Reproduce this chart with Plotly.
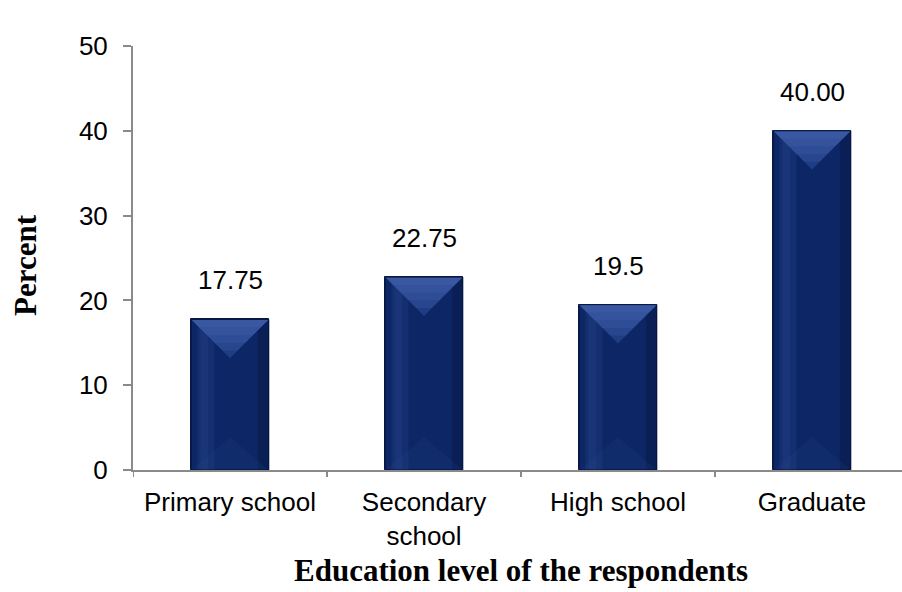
import plotly.graph_objects as go

categories = ["Primary school", "Secondary<br>school", "High school", "Graduate"]
values = [17.75, 22.75, 19.5, 40.0]
value_labels = ["17.75", "22.75", "19.5", "40.00"]
y_ticks = [0, 10, 20, 30, 40, 50]

W, H = 902, 592
ML, MR, MT, MB = 133, 0, 46, 122
px_per_cat = 194.0
bar_w = 0.40
y_max = 50
x_end = -0.5 + (W - ML - MR) / px_per_cat
pw, ph = W - ML - MR, H - MT - MB
px_per_y = ph / y_max

sans = "Liberation Sans, Arial, sans-serif"
serif = "Liberation Serif, Times New Roman, serif"
axis_grey = "#8a8a8a"

fig = go.Figure()
fig.add_trace(go.Bar(
    x=list(range(len(categories))), y=values, width=bar_w,
    marker=dict(color="#0d2665", line=dict(color="#08194a", width=1)),
    hoverinfo="skip",
))

# bevel shading derived from bar geometry (45-degree facets)
depth = (bar_w / 2 * px_per_cat) / px_per_y
shapes = []
for i, v in enumerate(values):
    x0, x1 = i - bar_w / 2, i + bar_w / 2
    d = min(depth, v / 2)
    # soft left highlight
    shapes.append(dict(type="rect", xref="x", yref="y",
                       x0=x0 + bar_w * 0.08, x1=x0 + bar_w * 0.30, y0=0, y1=v,
                       fillcolor="rgba(45,80,155,0.22)", line_width=0, layer="above"))
    shapes.append(dict(type="rect", xref="x", yref="y",
                       x0=x0 + bar_w * 0.12, x1=x0 + bar_w * 0.22, y0=0, y1=v,
                       fillcolor="rgba(45,80,155,0.20)", line_width=0, layer="above"))
    # darker right side
    shapes.append(dict(type="rect", xref="x", yref="y",
                       x0=x1 - bar_w * 0.14, x1=x1, y0=0, y1=v,
                       fillcolor="rgba(0,10,40,0.25)", line_width=0, layer="above"))
    # bottom facet (subtle)
    shapes.append(dict(type="path", xref="x", yref="y",
                       path=f"M {x0},0 L {x1},0 L {i},{d * 0.85} Z",
                       fillcolor="rgba(40,70,140,0.18)", line_width=0, layer="above"))
    # top facet with gradient towards the top edge
    shapes.append(dict(type="path", xref="x", yref="y",
                       path=f"M {x0},{v} L {x1},{v} L {i},{v - d} Z",
                       fillcolor="#1f3d85", line_width=0, layer="above"))
    for f in (0.8, 0.6, 0.4, 0.2):
        shapes.append(dict(type="path", xref="x", yref="y",
                           path=f"M {i - bar_w / 2 * f - bar_w/2*(1-f)},{v} L {i + bar_w / 2},{v} L {i},{v - d} Z" if False else
                           f"M {x0},{v} L {x1},{v} L {x1 - d * f * 0},{v} L {i + (bar_w/2)*(1-f)},{v - d * f} L {i - (bar_w/2)*(1-f)},{v - d * f} Z",
                           fillcolor="rgba(85,120,190,0.16)", line_width=0, layer="above"))
    # outline
    shapes.append(dict(type="rect", xref="x", yref="y",
                       x0=x0, x1=x1, y0=0, y1=v,
                       line=dict(color="#07173f", width=1), layer="above"))

annotations = []
for i, (v, t) in enumerate(zip(values, value_labels)):
    annotations.append(dict(x=i, y=v, xref="x", yref="y", text=t, showarrow=False,
                            yanchor="bottom", yshift=22,
                            font=dict(family=sans, size=26, color="black")))

annotations.append(dict(x=(521 - ML) / pw, y=(H - MB - 570) / ph, xref="paper", yref="paper",
                        xanchor="center", yanchor="middle",
                        text="<b>Education level of the respondents</b>",
                        showarrow=False, font=dict(family=serif, size=31, color="black")))
annotations.append(dict(x=(25 - ML) / pw, y=(H - MB - 265) / ph, xref="paper", yref="paper",
                        xanchor="center", yanchor="middle",
                        text="<b>Percent</b>", textangle=-90,
                        showarrow=False, font=dict(family=serif, size=31, color="black")))

fig.update_layout(
    width=W, height=H,
    margin=dict(l=ML, r=MR, t=MT, b=MB, pad=0),
    paper_bgcolor="white", plot_bgcolor="white",
    showlegend=False,
    shapes=shapes, annotations=annotations,
    bargap=0,
    xaxis=dict(
        type="linear", range=[-0.5, x_end], tickmode="array",
        tickvals=list(range(len(categories))), ticktext=categories,
        showline=True, linecolor=axis_grey, linewidth=2,
        ticks="", showgrid=False, zeroline=False,
        ticklabelstandoff=8,
        tickfont=dict(family=sans, size=26, color="black"),
        fixedrange=True,
    ),
    yaxis=dict(
        range=[0, y_max], tickvals=y_ticks,
        showline=True, linecolor=axis_grey, linewidth=2,
        ticks="outside", ticklen=8, tickcolor=axis_grey, tickwidth=2,
        ticklabelstandoff=10,
        showgrid=False, zeroline=False,
        tickfont=dict(family=sans, size=26, color="black"),
        fixedrange=True,
    ),
)

# category boundary ticks on the x axis
for b in [-0.5 + k for k in range(len(categories) + 1)]:
    if b <= x_end:
        fig.add_shape(type="line", xref="x", yref="paper", x0=b, x1=b, y0=0, y1=-7 / ph,
                      line=dict(color=axis_grey, width=2), layer="above")

fig.write_html("out.html")
